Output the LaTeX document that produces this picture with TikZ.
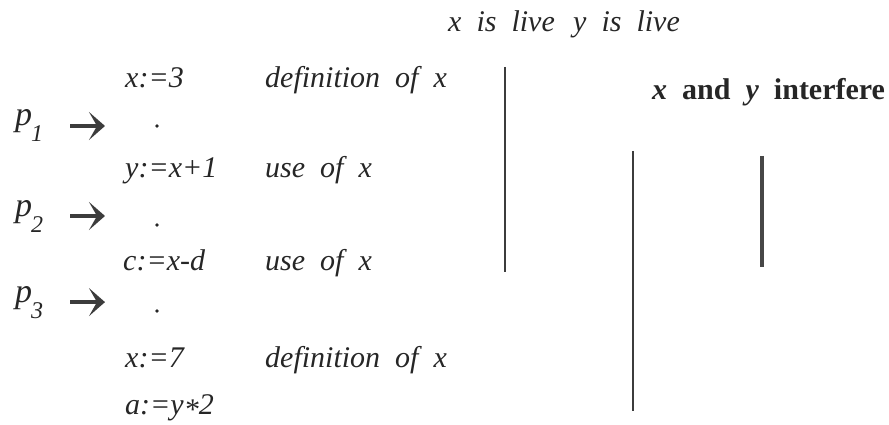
\documentclass[tikz,border=0pt]{standalone}
\usepackage{fontspec}
\setmainfont{Liberation Serif}
\usetikzlibrary{arrows.meta}
\definecolor{ink}{HTML}{262626}
\newcommand\wsp{\hspace{0.5em}}
\begin{document}
\begin{tikzpicture}[x=1pt,y=-1pt,
  txt/.style={anchor=base west, inner sep=0pt, font=\fontsize{30}{36}\selectfont\itshape, text=ink},
  btxt/.style={anchor=base west, inner sep=0pt, font=\fontsize{30}{36}\selectfont\bfseries, text=ink},
  plabel/.style={anchor=base west, inner sep=0pt, font=\fontsize{34}{40}\selectfont\itshape, text=ink},
  parrow/.style={draw=ink!90, line width=4.5pt, -{Stealth[length=16pt,width=28pt,inset=8pt]}},
  dotnode/.style={circle, fill=ink, inner sep=0pt, minimum size=3.6pt},
  live/.style={draw=ink!90, line width=1.6pt},
  interf/.style={draw=ink!85, line width=4pt}]
\useasboundingbox (0,0) rectangle (889,425);
% column headings
\node[txt] (xl) at (448,32) {x\wsp is\wsp live};
\node[txt] (yl) at (573,32) {y\wsp is\wsp live};
\node[btxt] (ix) at (652,100) {\textit{x}\wsp and\wsp\textit{y}\wsp interfere};
% program
\node[txt] (s1) at (125,88) {x:=3};
\node[txt] (c1) at (265,88) {definition\wsp of\wsp x};
\node[txt] (s2) at (125,178) {y:=x+1};
\node[txt] (c2) at (265,178) {use\wsp of\wsp x};
\node[txt] (s3) at (123,270) {c:=x-d};
\node[txt] (c3) at (265,270) {use\wsp of\wsp x};
\node[txt] (s4) at (125,367) {x:=7};
\node[txt] (c4) at (265,367) {definition\wsp of\wsp x};
\node[txt] (s5) at (125,414) {a:=y\raisebox{-5pt}{*}2};
% program points
\node[plabel] (p1) at (15,126) {p\kern-1pt\raisebox{-16pt}{\fontsize{24}{24}\selectfont 1}};
\node[plabel] (p2) at (15,216) {p\kern-1pt\raisebox{-16pt}{\fontsize{24}{24}\selectfont 2}};
\node[plabel] (p3) at (15,302) {p\kern-1pt\raisebox{-16pt}{\fontsize{24}{24}\selectfont 3}};
\node[dotnode] (d1) at (157,126) {};
\node[dotnode] (d2) at (157,225) {};
\node[dotnode] (d3) at (157,311) {};
\draw[parrow, shorten <=27pt, shorten >=50pt] (p1.east) -- (p1.east -| d1.west);
\draw[parrow, shorten <=27pt, shorten >=50pt] (p2.east) -- (p2.east -| d2.west);
\draw[parrow, shorten <=27pt, shorten >=50pt] (p3.east) -- (p3.east -| d3.west);
% live ranges
\coordinate (xa) at (505,67);
\coordinate (xb) at (505,272);
\coordinate (ya) at (633,151);
\coordinate (yb) at (633,411);
\coordinate (ia) at (762,156);
\coordinate (ib) at (762,267);
\draw[live] (xa) -- (xb);
\draw[live] (ya) -- (yb);
\draw[interf] (ia) -- (ib);
\end{tikzpicture}
\end{document}
